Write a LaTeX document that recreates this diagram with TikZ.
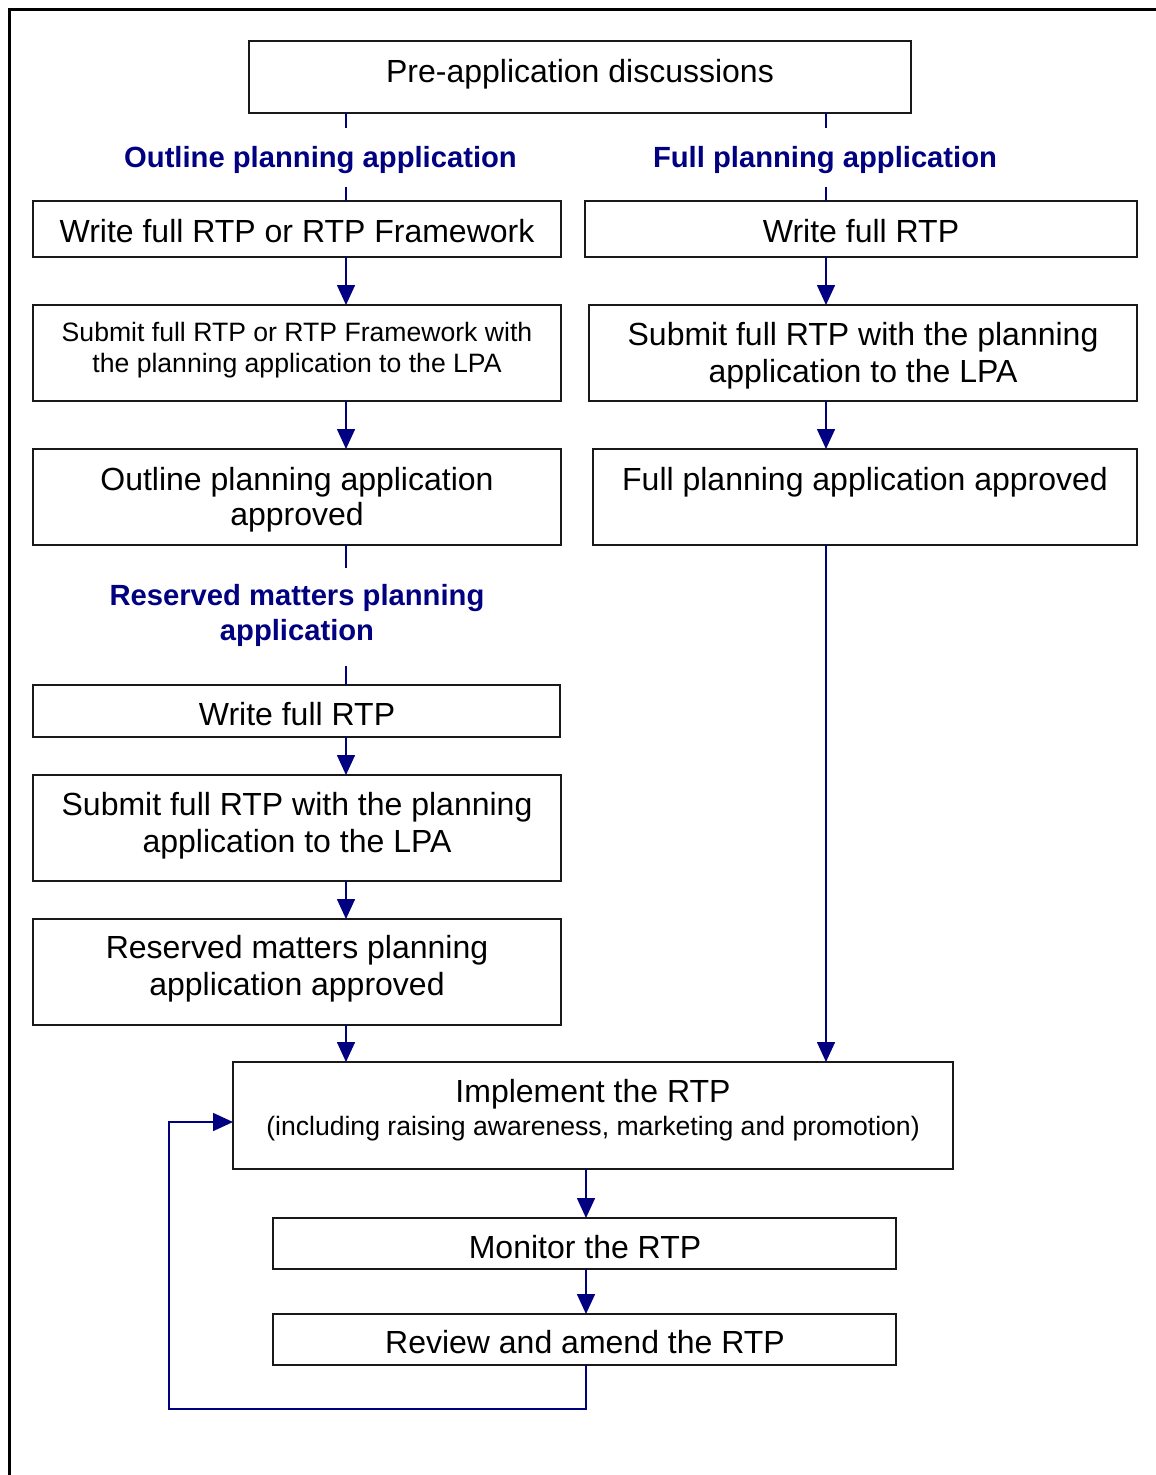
\documentclass[tikz,border=0pt]{standalone}
\usepackage{fontspec}
\setmainfont{Liberation Sans}
\usetikzlibrary{arrows.meta}
\definecolor{navy}{RGB}{0,0,128}
\definecolor{boxc}{RGB}{25,25,25}
\tikzset{
  box/.style={draw=boxc, line width=2pt, inner sep=0pt, outer sep=0pt},
  tx/.style={anchor=base, inner sep=0pt, font=\fontsize{32}{37}\selectfont},
  sm/.style={anchor=base, inner sep=0pt, font=\fontsize{26.6}{31}\selectfont},
  lab/.style={anchor=base, inner sep=0pt, text=navy, font=\bfseries\fontsize{29.2}{34}\selectfont},
  conn/.style={draw=navy, line width=1.6pt},
  arr/.style={conn, -{Triangle[length=20pt,width=18pt]}},
}
\newcommand{\bx}[5]{\node[box, minimum width=#4pt, minimum height=#5pt] (#1) at (#2,#3) {};}
\begin{document}
\begin{tikzpicture}[x=1pt,y=-1pt]
\useasboundingbox (0,0) rectangle (1156,1475);
% outer frame
\draw[line width=3pt, black] (9,1475) -- (9,9) -- (1156,9);
% boxes
\bx{pre}{580}{77}{662}{72}
\bx{L1}{297}{229}{528}{56}
\bx{L2}{297}{353}{528}{96}
\bx{L3}{297}{497}{528}{96}
\bx{L4}{296.5}{711}{527}{52}
\bx{L5}{297}{828}{528}{106}
\bx{L6}{297}{972}{528}{106}
\bx{R1}{861}{229}{552}{56}
\bx{R2}{863}{353}{548}{96}
\bx{R3}{865}{497}{544}{96}
\bx{imp}{593}{1115.5}{720}{107}
\bx{mon}{584.5}{1243.5}{623}{51}
\bx{rev}{584.5}{1339.5}{623}{51}
% texts
\node[tx] (pre-t) at (580,82) {Pre-application discussions};
\node[lab] (lab-o) at (320.5,167) {Outline planning application};
\node[lab] (lab-f) at (825,167) {Full planning application};
\node[tx] (L1-t) at (297,242) {Write full RTP or RTP Framework};
\node[sm] (L2-t1) at (297,341) {Submit full RTP or RTP Framework with};
\node[sm] (L2-t2) at (297,372) {the planning application to the LPA};
\node[tx] (L3-t1) at (297,490) {Outline planning application};
\node[tx] (L3-t2) at (297,525) {approved};
\node[tx] (R1-t) at (861,242) {Write full RTP};
\node[tx] (R2-t1) at (863,345) {Submit full RTP with the planning};
\node[tx] (R2-t2) at (863,382) {application to the LPA};
\node[tx] (R3-t) at (865,490) {Full planning application approved};
\node[lab] (lab-r1) at (297,605) {Reserved matters planning};
\node[lab] (lab-r2) at (297,640) {application};
\node[tx] (L4-t) at (297,725) {Write full RTP};
\node[tx] (L5-t1) at (297,815) {Submit full RTP with the planning};
\node[tx] (L5-t2) at (297,852) {application to the LPA};
\node[tx] (L6-t1) at (297,958) {Reserved matters planning};
\node[tx] (L6-t2) at (297,995) {application approved};
\node[tx] (imp-t1) at (593,1102) {Implement the RTP};
\node[sm] (imp-t2) at (593,1135) {(including raising awareness, marketing and promotion)};
\node[tx] (mon-t) at (585,1258) {Monitor the RTP};
\node[tx] (rev-t) at (585,1353) {Review and amend the RTP};
% column coordinates
\coordinate (colL) at (346,0);
\coordinate (colR) at (826,0);
\coordinate (colM) at (586,0);
\coordinate (oTop) at (346,128);
\coordinate (oBot) at (346,187);
\coordinate (fTop) at (826,128);
\coordinate (fBot) at (826,187);
\coordinate (rmTop) at (346,568);
\coordinate (rmBot) at (346,666);
\coordinate (fb1) at (586,1409);
\coordinate (fb2) at (169,1409);
\coordinate (fb3) at (169,1122);
% connectors
\draw[conn] (pre.south -| colL) -- (oTop);
\draw[conn] (oBot) -- (L1.north -| colL);
\draw[conn] (pre.south -| colR) -- (fTop);
\draw[conn] (fBot) -- (R1.north -| colR);
\draw[arr] (L1.south -| colL) -- (L2.north -| colL);
\draw[arr] (L2.south -| colL) -- (L3.north -| colL);
\draw[conn] (L3.south -| colL) -- (rmTop);
\draw[conn] (rmBot) -- (L4.north -| colL);
\draw[arr] (L4.south -| colL) -- (L5.north -| colL);
\draw[arr] (L5.south -| colL) -- (L6.north -| colL);
\draw[arr] (L6.south -| colL) -- (imp.north -| colL);
\draw[arr] (R1.south -| colR) -- (R2.north -| colR);
\draw[arr] (R2.south -| colR) -- (R3.north -| colR);
\draw[arr] (R3.south -| colR) -- (imp.north -| colR);
\draw[arr] (imp.south -| colM) -- (mon.north -| colM);
\draw[arr] (mon.south -| colM) -- (rev.north -| colM);
\draw[arr] (rev.south -| colM) -- (fb1) -- (fb2) -- (fb3) -- (fb3 -| imp.west);
\end{tikzpicture}
\end{document}
